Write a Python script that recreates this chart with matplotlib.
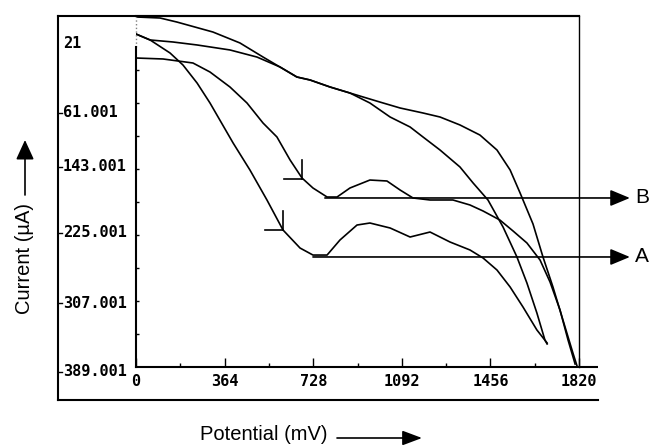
import matplotlib
matplotlib.use("Agg")
import matplotlib.pyplot as plt
import matplotlib.transforms as mtransforms
from matplotlib.lines import Line2D
from matplotlib.patches import FancyArrowPatch

# potential in mV, current in uA (current axis runs downwards)
t1_x = [0, 99, 168, 316, 427, 522, 661, 715, 797, 879, 1002, 1085, 1179, 1249,
        1331, 1413, 1483, 1537, 1578, 1631, 1672, 1713, 1754, 1795, 1812]
t1_y = [-45.9, -44.6, -39.6, -27.2, -13.6, 3.9, 28.7, 32.4, 41.1, 48.6, 59.8, 67.2,
        73.4, 78.4, 88.3, 100.8, 119.4, 144.2, 172.8, 211.3, 252.3, 289.6, 330.6,
        371.6, 387.8]

t2_x = [0, 58, 152, 251, 386, 497, 592, 661, 715, 797, 879, 961, 1044, 1126, 1179,
        1249, 1331, 1385, 1446, 1508, 1565, 1606, 1647, 1680, 1689]
t2_y = [-24.7, -17.3, -14.8, -11.1, -4.9, 3.9, 16.3, 28.7, 32.4, 41.1, 48.6, 61.0,
        78.4, 90.8, 103.2, 119.4, 140.5, 160.4, 181.5, 215.1, 252.3, 284.6, 321.9,
        355.5, 360.4]

b_x = [0, 111, 234, 304, 386, 456, 522, 579, 633, 682, 727, 785, 826, 879, 961,
       1031, 1085, 1138, 1208, 1302, 1372, 1426, 1495, 1549, 1606, 1660, 1701, 1742,
       1775, 1804]
b_y = [5.1, 6.3, 11.3, 22.5, 41.1, 61.0, 85.9, 103.2, 131.8, 154.2, 166.6, 177.8,
       177.8, 166.6, 156.7, 157.9, 169.1, 179.0, 181.5, 181.5, 187.7, 195.2, 206.4,
       220.0, 234.9, 256.1, 283.4, 318.2, 355.5, 385.3]

a_x = [0, 58, 140, 193, 251, 304, 399, 468, 538, 604, 674, 727, 785, 838, 908, 961,
       1044, 1126, 1208, 1290, 1372, 1426, 1483, 1537, 1590, 1647, 1689]
a_y = [-24.7, -17.3, -1.1, 13.8, 36.2, 61.0, 110.7, 144.2, 181.5, 218.8, 241.2,
       249.9, 249.9, 231.2, 212.6, 210.1, 216.3, 227.5, 221.3, 233.7, 243.6, 253.6,
       268.5, 289.6, 314.5, 343.0, 359.2]

# peak markers (x, y of the corner) and arrow lines to the labels
marks = {"B": (682, 155.4), "A": (604, 218.8)}
arrow_start = {"B": (776, 179.0), "A": (727, 252.3)}

xtick_vals = [0, 364, 728, 1092, 1456, 1820]
xtick_labels = ["0", "364", "728", "1092", "1456", "1820"]
ytick_labels = ["21", "61.001", "143.001", "225.001", "307.001", "389.001"]
ylabel_pos = [-13.5, 73.4, 140.5, 222.5, 309.5, 395.2]

W, H = 650, 446


def fx(px):
    return px / W


def fy(py):
    return 1 - py / H


fig = plt.figure(figsize=(6.5, 4.46), dpi=100)
ax = fig.add_axes([fx(136), fy(367), fx(579) - fx(136), fy(16) - fy(367)])

for xs, ys in [(t1_x, t1_y), (t2_x, t2_y), (b_x, b_y), (a_x, a_y)]:
    ax.plot(xs, ys, color="black", lw=1.2, solid_joinstyle="round")

# little corner marks at the peak starts
for k, (mx, my) in marks.items():
    ax.plot([mx, mx], [my - 24, my], color="black", lw=1.2)
    ax.plot([mx - 72, mx], [my, my], color="black", lw=1.2)

for k, (sx, sy) in arrow_start.items():
    ax.annotate("", xy=(2029, sy), xytext=(sx, sy),
                arrowprops=dict(arrowstyle="-|>,head_length=1.2,head_width=0.5",
                                color="black", lw=1.2, shrinkA=0, shrinkB=0,
                                mutation_scale=10),
                annotation_clip=False)
    ax.text(2079, sy, k, ha="center", va="center", fontsize=15,
            family="Liberation Sans", clip_on=False)

ax.set_xlim(0, 1820)
ax.set_ylim(389.001, -47.1)

ax.set_xticks(xtick_vals)
ax.set_xticklabels(xtick_labels, family="DejaVu Sans Mono", weight="bold", fontsize=11)
ax.set_xticks([182 + 364 * i for i in range(5)], minor=True)
ax.tick_params(axis="x", which="major", direction="in", length=6.5, width=1, pad=5)
ax.tick_params(axis="x", which="minor", direction="in", length=3, width=1)
ax.set_yticks([389.001 - 41 * i for i in range(1, 10)])
ax.set_yticklabels([])
ax.tick_params(axis="y", direction="in", length=2.5, width=1)

ax.spines["left"].set_bounds(389.001, -8.6)
ax.plot([0, 0], [-8.6, -47.1], color="gray", lw=1, ls=":", clip_on=False)
for s in ["left", "bottom", "top"]:
    ax.spines[s].set_linewidth(1.5)
ax.spines["right"].set_linewidth(1)
ax.plot([1820, 1898], [389.001, 389.001], color="black", lw=1.5,
        clip_on=False, solid_capstyle="butt")

# current labels sit between the outer frame and the plot
blend = mtransforms.blended_transform_factory(fig.transFigure, ax.transData)
for lab, v in zip(ytick_labels, ylabel_pos):
    ax.text(fx(63), v, lab, transform=blend, ha="left", va="center",
            family="DejaVu Sans Mono", weight="bold", fontsize=11)
for v in ylabel_pos[1:]:
    ax.plot([fx(58), fx(62)], [v, v], transform=blend, color="black", lw=1,
            clip_on=False)

# outer frame
fig.add_artist(Line2D([fx(58), fx(58)], [fy(16), fy(400)], color="black", lw=1.5))
fig.add_artist(Line2D([fx(58), fx(579)], [fy(16), fy(16)], color="black", lw=1.5))
fig.add_artist(Line2D([fx(58), fx(598)], [fy(400), fy(400)], color="black", lw=1.5))

fig.text(fx(200), fy(434), "Potential (mV)", family="Liberation Sans",
         fontsize=14.5, ha="left", va="center")
fig.add_artist(FancyArrowPatch((fx(337), fy(438)), (fx(422), fy(438)),
                               transform=fig.transFigure,
                               arrowstyle="-|>,head_length=1.2,head_width=0.45",
                               mutation_scale=10, color="black", lw=1.2,
                               shrinkA=0, shrinkB=0))

fig.text(fx(24), fy(258), "Current (\u00b5A)", family="Liberation Sans",
         fontsize=14.5, rotation=90, ha="center", va="center")
fig.add_artist(FancyArrowPatch((fx(25), fy(195)), (fx(25), fy(140)),
                               transform=fig.transFigure,
                               arrowstyle="-|>,head_length=1.2,head_width=0.55",
                               mutation_scale=10, color="black", lw=1.2,
                               shrinkA=0, shrinkB=0))

fig.savefig("out.png", dpi=100)
